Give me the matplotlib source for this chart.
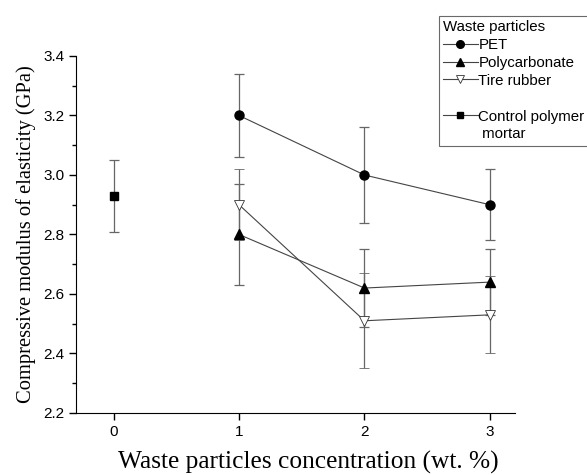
import matplotlib
matplotlib.use("Agg")
import matplotlib.pyplot as plt
from matplotlib.lines import Line2D
from matplotlib.ticker import MultipleLocator, FormatStrFormatter

# data
conc = [1, 2, 3]
pet = [3.20, 3.00, 2.90]
pet_err = [0.14, 0.16, 0.12]
poly = [2.80, 2.62, 2.64]
poly_err = [0.17, 0.13, 0.11]
tire = [2.90, 2.51, 2.53]
tire_err = [0.12, 0.16, 0.13]
control_x = [0]
control = [2.93]
control_err = [0.12]

fig = plt.figure(figsize=(5.87, 4.75), dpi=100)
ax = fig.add_axes([76 / 587, 1 - 413 / 475, (515 - 76) / 587, (413 - 56) / 475])

line_c = "#444444"
err_c = "#666666"
eb = dict(ecolor=err_c, elinewidth=0.9, capsize=3.5, capthick=0.9)

ax.errorbar(conc, pet, yerr=pet_err, color=line_c, lw=0.8, marker="o", ms=6.5,
            mfc="black", mec="black", **eb)
ax.errorbar(conc, poly, yerr=poly_err, color=line_c, lw=0.8, marker="^", ms=7,
            mfc="black", mec="black", **eb)
ax.errorbar(conc, tire, yerr=tire_err, color=line_c, lw=0.8, marker="v", ms=7,
            mfc="white", mec="#333333", mew=0.6, **eb)
ax.errorbar(control_x, control, yerr=control_err, ls="none", marker="s", ms=6,
            mfc="black", mec="black", **eb)

ax.set_xlim(-0.3, 3.2)
ax.set_ylim(2.2, 3.4)
ax.set_xticks([0, 1, 2, 3])
ax.yaxis.set_major_locator(MultipleLocator(0.2))
ax.yaxis.set_minor_locator(MultipleLocator(0.1))
ax.yaxis.set_major_formatter(FormatStrFormatter("%.1f"))
for s in ("top", "right"):
    ax.spines[s].set_visible(False)
ax.tick_params(axis="both", which="major", direction="out", length=5, width=1,
               labelsize=11)
ax.tick_params(axis="y", which="minor", direction="out", length=3, width=1)
for lbl in ax.get_xticklabels() + ax.get_yticklabels():
    lbl.set_family("Liberation Sans")

ax.set_xlabel("Waste particles concentration (wt. %)", family="Liberation Serif",
              fontsize=18.3)
ax.xaxis.set_label_coords(0.53, -0.105)
ax.set_ylabel("Compressive modulus of elasticity (GPa)", family="Liberation Serif",
              fontsize=14.8, labelpad=5)

blank = Line2D([], [], color="none")
handles = [
    Line2D([], [], color=line_c, lw=0.8, marker="o", ms=5.5, mfc="black", mec="black"),
    Line2D([], [], color=line_c, lw=0.8, marker="^", ms=6, mfc="black", mec="black"),
    Line2D([], [], color=line_c, lw=0.8, marker="v", ms=6, mfc="white", mec="#333333", mew=0.6),
    blank,
    Line2D([], [], color=line_c, lw=0.8, marker="s", ms=4.5, mfc="black", mec="black"),
    blank,
]
labels = ["PET", "Polycarbonate", "Tire rubber", " ", "Control polymer", " mortar"]
leg = fig.legend(handles, labels, title="Waste particles", loc="upper left",
                 bbox_to_anchor=(431 / 587, 1 - 8 / 475), frameon=True, fancybox=False,
                 edgecolor="#444444", handlelength=2.3, handletextpad=0.05,
                 labelspacing=0.26, borderpad=0.3, alignment="left",
                 prop={"family": "Liberation Sans", "size": 10.8},
                 title_fontproperties={"family": "Liberation Sans", "size": 10.8})
leg.get_frame().set_linewidth(0.8)

fig.savefig("out.png", dpi=100)
